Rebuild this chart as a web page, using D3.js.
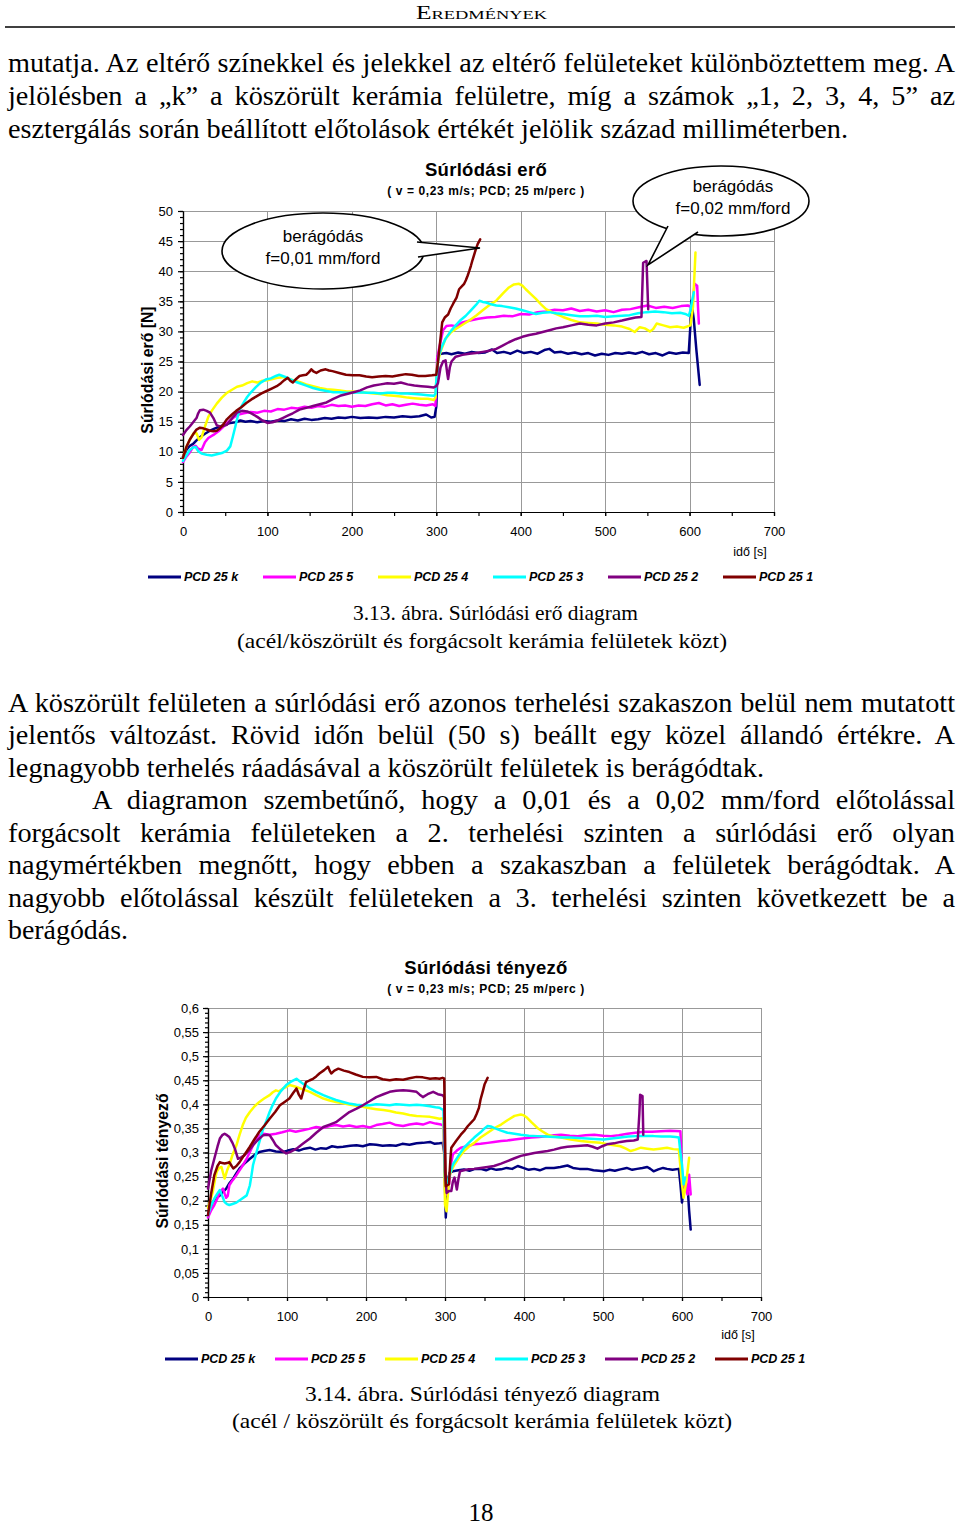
<!doctype html>
<html>
<head>
<meta charset="utf-8">
<title>Súrlódási erő és súrlódási tényező</title>
<script src="https://cdn.jsdelivr.net/npm/d3@7"></script>
<style>
  body { margin: 0; background: #fff; }
  svg { display: block; }
</style>
</head>
<body>
<svg id="page" width="960" height="1526"></svg>
<script>
// ---- data ----
var seriesNames = ["PCD 25 k", "PCD 25 5", "PCD 25 4", "PCD 25 3", "PCD 25 2", "PCD 25 1"];
var seriesColors = ["#000080", "#ff00ff", "#ffff00", "#00ffff", "#800080", "#800000"];
var timeTicks = [0, 100, 200, 300, 400, 500, 600, 700];
var forceTicks = [0, 5, 10, 15, 20, 25, 30, 35, 40, 45, 50];
var coefTicks = [0, 0.05, 0.1, 0.15, 0.2, 0.25, 0.3, 0.35, 0.4, 0.45, 0.5, 0.55, 0.6];

// súrlódási erő [N] vs idő [s]
var forceK = [[0,9.2],[4,10.3],[8,11.0],[12,11.3],[16,11.9],[20,12.4],[26,13.0],[32,13.5],[38,13.9],[44,14.2],[50,14.5],[56,14.8],[62,14.9],[68,15.2],[74,15.0],[80,15.1],[88,14.9],[96,15.1],[104,15.0],[112,15.2],[120,15.1],[128,15.4],[136,15.2],[144,15.5],[152,15.3],[160,15.4],[168,15.6],[176,15.5],[184,15.7],[192,15.6],[200,15.8],[210,15.6],[220,15.7],[230,15.6],[240,15.8],[250,15.7],[260,15.9],[270,15.8],[280,15.9],[288,16.2],[294,15.7],[298,15.8],[300,17.5],[302,26.0],[306,26.3],[312,26.4],[318,26.2],[326,26.5],[334,26.3],[342,26.6],[350,26.4],[358,26.5],[366,27.0],[372,26.4],[380,26.6],[388,26.3],[396,26.8],[404,26.4],[412,26.6],[420,26.3],[428,26.9],[434,27.1],[440,26.5],[448,26.6],[456,26.3],[464,26.5],[472,26.2],[480,26.4],[488,26.0],[496,26.3],[504,26.1],[512,26.4],[520,26.3],[528,26.5],[536,26.3],[544,26.6],[552,26.2],[560,26.4],[568,26.0],[576,26.5],[584,26.3],[592,26.5],[599,26.4],[601,31.0],[602,35.1],[605,32.0],[608,27.0],[612,21.1]];
var force5 = [[0,8.3],[4,9.2],[8,9.9],[12,10.8],[15,11.0],[18,10.5],[22,10.3],[26,11.6],[30,12.3],[36,12.8],[42,13.4],[48,14.2],[54,15.0],[60,15.7],[66,16.2],[72,16.4],[80,16.6],[88,16.5],[96,16.8],[104,16.7],[112,17.1],[120,17.0],[128,17.3],[136,17.2],[144,17.5],[152,17.3],[160,17.6],[168,17.5],[176,17.8],[184,17.6],[192,17.7],[200,17.5],[208,17.7],[216,17.6],[224,17.9],[232,18.1],[240,17.7],[248,17.9],[256,17.6],[264,17.8],[272,18.0],[280,17.8],[288,17.7],[296,17.9],[299,17.6],[301,25.5],[304,27.6],[308,30.2],[312,30.9],[318,31.0],[324,30.8],[331,31.5],[340,31.8],[350,32.1],[360,32.3],[370,32.4],[380,32.6],[390,32.5],[400,32.9],[410,32.8],[420,33.2],[430,33.3],[440,33.6],[450,33.5],[460,33.8],[470,33.4],[480,33.6],[490,33.3],[500,33.5],[510,33.2],[520,33.6],[530,33.7],[540,34.0],[550,34.3],[560,33.9],[570,34.1],[580,33.9],[590,34.2],[598,34.3],[603,34.0],[606,37.9],[609,37.6],[610,34.0],[611,31.3]];
var force4 = [[0,9.0],[4,10.8],[8,12.0],[12,13.0],[16,13.1],[19,12.0],[22,12.4],[26,14.2],[30,15.8],[34,16.8],[40,18.0],[46,19.0],[52,19.8],[58,20.3],[64,20.8],[70,21.0],[76,21.4],[82,21.7],[88,21.5],[94,21.8],[100,21.9],[106,22.1],[112,22.3],[118,22.4],[124,22.2],[130,21.9],[138,21.6],[146,21.2],[154,20.9],[162,20.6],[170,20.4],[178,20.3],[186,20.2],[194,20.0],[202,20.0],[210,19.9],[218,19.8],[226,19.7],[234,19.6],[242,19.4],[250,19.3],[258,19.2],[266,19.0],[274,18.9],[282,18.8],[290,18.8],[297,18.6],[299,19.0],[301,24.5],[305,26.6],[311,28.8],[317,29.8],[323,30.4],[331,31.1],[339,31.8],[347,32.6],[355,33.5],[363,34.4],[371,35.1],[379,36.3],[386,37.3],[392,37.8],[398,37.9],[402,37.6],[406,37.0],[412,36.2],[418,35.4],[424,34.5],[430,33.7],[440,33.0],[450,32.4],[460,31.9],[470,31.5],[480,31.4],[490,31.3],[500,31.1],[510,31.0],[520,30.8],[529,30.4],[535,29.9],[541,30.7],[547,30.5],[553,30.0],[557,30.4],[561,31.3],[569,31.0],[577,30.7],[585,30.8],[593,30.6],[601,31.0],[604,34.0],[605,37.0],[607,43.1]];
var force3 = [[0,8.5],[4,9.4],[8,10.3],[12,10.7],[15,10.8],[18,10.1],[22,9.7],[28,9.5],[34,9.4],[40,9.6],[46,9.8],[52,10.2],[56,10.9],[59,12.5],[62,14.2],[65,16.0],[68,17.2],[72,18.2],[76,19.1],[80,19.8],[86,20.7],[92,21.5],[98,22.0],[104,22.2],[110,22.6],[114,22.8],[118,22.6],[122,22.4],[128,22.0],[134,21.6],[140,21.3],[146,21.0],[154,20.6],[162,20.3],[170,20.1],[178,19.9],[186,19.9],[194,19.8],[202,19.8],[210,19.9],[218,19.8],[226,19.8],[234,19.7],[242,19.8],[250,19.8],[258,19.7],[266,19.7],[274,19.6],[282,19.5],[290,19.4],[297,19.3],[299,19.6],[301,24.0],[303,26.0],[307,27.6],[311,28.8],[317,30.0],[323,31.0],[329,31.9],[335,32.6],[341,33.5],[347,34.4],[351,35.1],[355,34.9],[359,34.8],[365,34.5],[371,34.3],[378,34.2],[386,34.0],[394,33.8],[402,33.5],[410,33.2],[418,32.9],[426,33.1],[434,33.2],[442,33.0],[450,32.9],[460,32.7],[470,32.5],[480,32.5],[490,32.6],[500,32.4],[510,32.5],[520,32.6],[529,32.7],[539,33.0],[549,33.2],[559,33.3],[569,33.2],[579,33.0],[589,33.1],[595,32.9],[599,32.6],[601,33.5],[603,35.1],[605,36.5]];
var force2 = [[0,12.8],[4,13.6],[8,14.2],[12,14.9],[16,15.6],[18,16.4],[20,16.9],[24,17.0],[28,16.8],[32,16.5],[36,15.6],[40,14.4],[44,14.2],[48,14.3],[52,14.5],[56,15.2],[60,15.9],[64,16.5],[70,16.8],[76,16.7],[82,16.3],[88,15.8],[94,15.2],[100,14.8],[106,14.9],[112,15.2],[118,15.6],[124,16.0],[130,16.4],[138,17.0],[146,17.3],[154,17.6],[162,17.9],[170,18.2],[178,18.8],[186,19.3],[194,19.6],[202,19.9],[210,20.2],[218,20.7],[226,21.0],[234,21.2],[242,21.4],[250,21.3],[258,21.5],[266,21.2],[274,21.0],[282,20.9],[290,20.8],[297,20.7],[300,20.9],[302,21.4],[305,24.0],[308,25.0],[311,25.2],[313,23.0],[314,22.1],[316,24.0],[318,25.0],[323,25.8],[331,26.1],[339,26.3],[347,26.4],[355,26.6],[363,26.8],[371,27.1],[378,27.6],[386,28.2],[394,28.7],[402,29.1],[410,29.4],[418,29.6],[426,29.9],[434,30.2],[442,30.5],[450,30.7],[460,31.0],[470,31.3],[480,31.1],[490,31.0],[500,31.3],[510,31.5],[520,31.8],[529,32.1],[536,32.3],[543,32.4],[545,41.4],[549,41.7],[551,33.7]];
var force1 = [[0,9.0],[4,10.8],[8,12.0],[12,12.9],[16,13.7],[20,14.0],[24,13.9],[28,13.7],[32,13.5],[36,13.4],[40,13.5],[44,13.9],[48,14.6],[52,15.4],[58,16.2],[63,16.8],[69,17.4],[75,18.1],[81,18.7],[87,19.2],[93,19.7],[99,20.1],[105,20.5],[111,20.9],[116,21.4],[120,21.9],[124,22.3],[127,21.8],[130,21.5],[134,22.1],[138,22.6],[142,22.7],[146,22.8],[149,23.2],[152,23.7],[155,23.3],[158,23.1],[163,23.5],[169,23.7],[173,23.5],[177,23.4],[185,23.1],[193,22.8],[201,22.7],[209,22.7],[217,22.5],[224,22.4],[232,22.5],[240,22.6],[248,22.5],[256,22.7],[264,22.9],[271,22.8],[279,22.6],[287,22.6],[295,22.7],[300,22.8],[302,25.0],[304,27.5],[307,31.5],[310,32.3],[314,32.8],[317,33.8],[320,34.6],[324,35.6],[327,37.0],[331,37.6],[333,37.9],[335,38.5],[337,39.2],[339,40.0],[341,40.9],[343,41.9],[345,42.8],[347,43.7],[349,44.5],[352,45.3]];

// súrlódási tényező vs idő [s]
var coefK = [[0,0.170],[3,0.185],[6,0.197],[10,0.205],[15,0.211],[19,0.218],[23,0.225],[27,0.236],[32,0.246],[36,0.257],[40,0.267],[46,0.277],[53,0.287],[59,0.295],[65,0.301],[71,0.303],[78,0.305],[86,0.302],[95,0.301],[101,0.304],[108,0.307],[115,0.304],[122,0.308],[129,0.310],[136,0.306],[143,0.309],[150,0.308],[157,0.313],[164,0.311],[171,0.312],[180,0.314],[188,0.315],[196,0.313],[205,0.317],[213,0.316],[221,0.314],[230,0.315],[238,0.314],[246,0.318],[255,0.316],[264,0.319],[272,0.320],[281,0.322],[287,0.318],[293,0.319],[297,0.320],[299,0.300],[300,0.230],[301,0.165],[302,0.200],[303,0.241],[306,0.258],[310,0.261],[317,0.263],[324,0.265],[331,0.262],[338,0.266],[345,0.266],[352,0.263],[358,0.267],[365,0.264],[371,0.265],[378,0.268],[385,0.266],[392,0.272],[399,0.268],[406,0.264],[413,0.266],[420,0.263],[428,0.268],[438,0.268],[446,0.270],[455,0.273],[462,0.268],[470,0.266],[480,0.266],[488,0.263],[495,0.262],[501,0.261],[508,0.264],[515,0.262],[522,0.265],[530,0.268],[537,0.264],[543,0.266],[550,0.268],[556,0.270],[560,0.266],[564,0.261],[570,0.265],[576,0.268],[581,0.266],[588,0.264],[596,0.266],[598,0.234],[600,0.196],[602,0.225],[604,0.236],[607,0.232],[609,0.180],[611,0.140]];
var coef5 = [[0,0.165],[4,0.180],[8,0.191],[12,0.205],[15,0.218],[19,0.225],[21,0.215],[23,0.206],[25,0.210],[27,0.232],[31,0.242],[36,0.253],[42,0.268],[49,0.287],[55,0.308],[61,0.329],[66,0.336],[70,0.339],[78,0.337],[86,0.339],[94,0.342],[103,0.346],[111,0.343],[120,0.346],[128,0.349],[137,0.353],[145,0.351],[154,0.355],[162,0.357],[171,0.354],[179,0.356],[188,0.353],[196,0.355],[205,0.352],[213,0.357],[221,0.359],[230,0.362],[238,0.357],[247,0.355],[255,0.358],[264,0.360],[272,0.358],[281,0.363],[288,0.360],[295,0.358],[298,0.356],[300,0.241],[302,0.213],[305,0.234],[308,0.280],[310,0.296],[315,0.304],[320,0.310],[328,0.313],[337,0.317],[345,0.318],[354,0.320],[362,0.322],[371,0.324],[379,0.325],[388,0.327],[398,0.329],[409,0.331],[419,0.332],[430,0.334],[438,0.336],[447,0.337],[458,0.335],[468,0.334],[478,0.336],[489,0.337],[500,0.335],[510,0.334],[520,0.336],[531,0.339],[541,0.341],[552,0.343],[562,0.343],[573,0.344],[585,0.345],[598,0.344],[600,0.254],[603,0.230],[607,0.213],[609,0.254],[611,0.213]];
var coef4 = [[0,0.185],[3,0.200],[6,0.218],[9,0.245],[11,0.260],[14,0.268],[17,0.270],[19,0.258],[21,0.246],[24,0.262],[27,0.274],[31,0.295],[36,0.315],[40,0.337],[44,0.357],[48,0.372],[53,0.384],[59,0.396],[65,0.405],[71,0.412],[78,0.419],[82,0.425],[86,0.429],[90,0.427],[95,0.433],[99,0.436],[103,0.440],[108,0.438],[112,0.436],[120,0.431],[129,0.426],[137,0.419],[146,0.412],[154,0.408],[162,0.405],[171,0.402],[180,0.399],[188,0.397],[196,0.395],[205,0.392],[213,0.390],[222,0.388],[230,0.386],[238,0.383],[247,0.381],[255,0.378],[264,0.376],[272,0.375],[281,0.374],[287,0.372],[293,0.370],[298,0.371],[300,0.192],[302,0.178],[304,0.220],[305,0.248],[308,0.262],[312,0.275],[318,0.290],[324,0.303],[330,0.312],[337,0.320],[345,0.331],[354,0.341],[362,0.350],[371,0.358],[379,0.367],[388,0.376],[396,0.379],[400,0.377],[404,0.372],[410,0.362],[417,0.351],[423,0.344],[430,0.337],[438,0.333],[447,0.331],[459,0.327],[472,0.324],[484,0.322],[497,0.320],[510,0.316],[522,0.313],[529,0.308],[535,0.303],[541,0.306],[548,0.310],[556,0.308],[564,0.306],[572,0.308],[581,0.310],[589,0.307],[596,0.306],[600,0.234],[602,0.206],[605,0.235],[607,0.261],[609,0.289]];
var coef3 = [[0,0.170],[4,0.190],[8,0.204],[12,0.215],[15,0.222],[18,0.210],[21,0.197],[24,0.193],[27,0.191],[31,0.193],[36,0.196],[42,0.203],[49,0.211],[53,0.232],[55,0.252],[57,0.274],[61,0.298],[65,0.322],[69,0.345],[74,0.366],[78,0.384],[82,0.399],[86,0.412],[92,0.427],[99,0.440],[105,0.447],[112,0.453],[116,0.448],[120,0.443],[125,0.438],[129,0.433],[137,0.426],[146,0.419],[154,0.414],[162,0.409],[171,0.405],[180,0.401],[188,0.399],[196,0.398],[205,0.398],[213,0.400],[222,0.399],[230,0.398],[238,0.400],[247,0.399],[255,0.398],[264,0.399],[272,0.398],[281,0.396],[288,0.394],[293,0.393],[298,0.388],[300,0.248],[303,0.234],[306,0.255],[310,0.275],[317,0.293],[324,0.310],[330,0.320],[337,0.331],[345,0.342],[350,0.350],[354,0.355],[358,0.354],[362,0.351],[370,0.346],[379,0.341],[388,0.339],[396,0.337],[406,0.335],[417,0.334],[428,0.333],[438,0.332],[448,0.331],[459,0.331],[469,0.330],[480,0.329],[490,0.328],[501,0.327],[511,0.329],[522,0.331],[532,0.333],[543,0.334],[553,0.334],[564,0.334],[574,0.333],[585,0.333],[592,0.332],[596,0.331],[598,0.300],[600,0.275],[602,0.234],[604,0.248]];
var coef2 = [[0,0.225],[4,0.262],[8,0.287],[12,0.312],[15,0.329],[18,0.336],[21,0.339],[24,0.336],[27,0.332],[31,0.320],[34,0.308],[38,0.287],[42,0.290],[46,0.294],[52,0.305],[57,0.315],[63,0.326],[70,0.336],[74,0.337],[78,0.336],[82,0.326],[86,0.315],[92,0.306],[99,0.298],[105,0.302],[112,0.308],[120,0.318],[129,0.329],[137,0.341],[146,0.353],[154,0.358],[162,0.363],[171,0.374],[179,0.384],[188,0.391],[196,0.398],[205,0.407],[213,0.415],[222,0.421],[230,0.426],[238,0.428],[247,0.429],[255,0.428],[264,0.426],[268,0.420],[272,0.415],[278,0.421],[285,0.426],[291,0.421],[297,0.419],[299,0.415],[300,0.261],[302,0.216],[305,0.220],[308,0.220],[310,0.240],[312,0.248],[314,0.232],[315,0.223],[317,0.245],[319,0.261],[324,0.263],[329,0.265],[337,0.266],[345,0.268],[354,0.270],[362,0.272],[371,0.277],[379,0.282],[388,0.288],[396,0.293],[404,0.296],[413,0.299],[421,0.301],[430,0.303],[438,0.306],[447,0.310],[455,0.312],[463,0.313],[472,0.314],[480,0.315],[487,0.312],[493,0.308],[499,0.313],[505,0.317],[514,0.319],[522,0.322],[530,0.324],[539,0.325],[544,0.327],[546,0.380],[547,0.420],[550,0.417],[551,0.337]];
var coef1 = [[0,0.170],[4,0.215],[8,0.253],[12,0.272],[15,0.280],[18,0.278],[21,0.277],[24,0.278],[27,0.280],[30,0.272],[32,0.267],[36,0.272],[40,0.280],[46,0.295],[53,0.312],[59,0.328],[65,0.343],[72,0.357],[78,0.370],[85,0.384],[91,0.398],[97,0.405],[103,0.412],[108,0.424],[112,0.433],[115,0.420],[118,0.412],[121,0.430],[124,0.446],[129,0.450],[133,0.453],[137,0.458],[141,0.464],[147,0.471],[152,0.478],[154,0.470],[156,0.464],[160,0.470],[165,0.474],[172,0.470],[179,0.467],[187,0.462],[196,0.457],[204,0.456],[213,0.457],[221,0.452],[230,0.450],[238,0.452],[247,0.451],[255,0.454],[264,0.457],[272,0.456],[281,0.453],[288,0.454],[293,0.453],[297,0.455],[299,0.454],[301,0.230],[303,0.232],[305,0.234],[307,0.290],[308,0.310],[314,0.324],[320,0.337],[325,0.346],[329,0.355],[333,0.362],[337,0.369],[340,0.380],[343,0.393],[345,0.410],[348,0.428],[350,0.441],[354,0.455]];

var SERIF = '"Liberation Serif", "Times New Roman", serif';
var SANS = '"Liberation Sans", Arial, sans-serif';

var svg = d3.select("#page");
svg.append("rect").attr("width", 960).attr("height", 1526).attr("fill", "#fff");

// body text: slightly condensed Times, justified with word spacing
var BODY_SIZE = 27.5;
function naturalWidth(str, size) {
  var t = svg.append("text").attr("font-family", SERIF).attr("font-size", size).text(str);
  var w = t.node().getComputedTextLength();
  t.remove();
  return w;
}
// horizontal squeeze taken from a line that is set with normal spacing in the scan
var bodySx = 756 / naturalWidth("legnagyobb terhelés ráadásával a köszörült felületek is berágódtak.", BODY_SIZE);

function textLine(str, x, y, w, size, justify, sx) {
  sx = sx || 1;
  var t = svg.append("text")
      .attr("transform", "translate(" + x + "," + y + ") scale(" + sx + ",1)")
      .attr("font-family", SERIF).attr("font-size", size)
      .text(str);
  var nat = t.node().getComputedTextLength() * sx;
  var gaps = (str.match(/ /g) || []).length;
  if (justify && nat < w && gaps > 0) {
    t.attr("word-spacing", (w - nat) / gaps / sx);
  } else {
    t.attr("textLength", w / sx).attr("lengthAdjust", "spacingAndGlyphs");
  }
  return t;
}

// header
svg.append("text").attr("x", 416).attr("y", 19)
    .attr("font-family", SERIF).attr("font-size", 18)
    .style("font-variant", "small-caps")
    .attr("textLength", 131).attr("lengthAdjust", "spacingAndGlyphs")
    .text("Eredmények");
svg.append("line").attr("x1", 5).attr("x2", 955).attr("y1", 27).attr("y2", 27)
    .attr("stroke", "#000").attr("stroke-width", 1.3);

var bodyLines = [
  ["mutatja. Az eltérő színekkel és jelekkel az eltérő felületeket különböztettem meg. A", 8, 72, 947, true],
  ["jelölésben a „k” a köszörült kerámia felületre, míg a számok „1, 2, 3, 4, 5” az", 8, 105, 947, true],
  ["esztergálás során beállított előtolások értékét jelölik század milliméterben.", 8, 138, 840, false],
  ["A köszörült felületen a súrlódási erő azonos terhelési szakaszon belül nem mutatott", 8, 712, 947, true],
  ["jelentős változást. Rövid időn belül (50 s) beállt egy közel állandó értékre. A", 8, 744, 947, true],
  ["legnagyobb terhelés ráadásával a köszörült felületek is berágódtak.", 8, 777, 756, false],
  ["A diagramon szembetűnő, hogy a 0,01 és a 0,02 mm/ford előtolással", 92, 809, 863, true],
  ["forgácsolt kerámia felületeken a 2. terhelési szinten a súrlódási erő olyan", 8, 842, 947, true],
  ["nagymértékben megnőtt, hogy ebben a szakaszban a felületek berágódtak. A", 8, 874, 947, true],
  ["nagyobb előtolással készült felületeken a 3. terhelési szinten következett be a", 8, 907, 947, true],
  ["berágódás.", 8, 939, 120, false]
];
bodyLines.forEach(function(l) { textLine(l[0], l[1], l[2], l[3], BODY_SIZE, l[4], bodySx); });

// captions and page number
textLine("3.13. ábra. Súrlódási erő diagram", 353, 620, 285, 21, false);
textLine("(acél/köszörült és forgácsolt kerámia felületek közt)", 237, 648, 490, 21, false);
textLine("3.14. ábra. Súrlódási tényező diagram", 305, 1401, 355, 21, false);
textLine("(acél / köszörült és forgácsolt kerámia felületek közt)", 232, 1428, 500, 21, false);
svg.append("text").attr("x", 481).attr("y", 1521).attr("text-anchor", "middle")
    .attr("font-family", SERIF).attr("font-size", 25).text("18");

function drawChart(cfg) {
  var x = d3.scaleLinear().domain([0, 700]).range([cfg.left, cfg.right]);
  var y = d3.scaleLinear().domain([0, cfg.yMax]).range([cfg.bottom, cfg.top]);
  var g = svg.append("g").attr("font-family", SANS);

  // gridlines
  g.append("g").selectAll("line").data(cfg.yTicks.slice(1)).join("line")
      .attr("x1", x(0)).attr("x2", x(700))
      .attr("y1", function(d) { return Math.round(y(d)) + 0.5; })
      .attr("y2", function(d) { return Math.round(y(d)) + 0.5; })
      .attr("stroke", "#999");
  g.append("g").selectAll("line").data(timeTicks.slice(1)).join("line")
      .attr("x1", function(d) { return Math.round(x(d)) + 0.5; })
      .attr("x2", function(d) { return Math.round(x(d)) + 0.5; })
      .attr("y1", y(0)).attr("y2", y(cfg.yMax))
      .attr("stroke", "#999");

  // axes
  var xMinor = g.append("g").attr("transform", "translate(0," + y(0) + ")")
      .call(d3.axisBottom(x).tickValues(d3.range(0, 701, 50)).tickSize(4).tickSizeOuter(0).tickFormat(""));
  var xMajor = g.append("g").attr("transform", "translate(0," + y(0) + ")")
      .call(d3.axisBottom(x).tickValues(timeTicks).tickSize(4).tickSizeOuter(0).tickPadding(cfg.xPad));
  var yMinor = g.append("g").attr("transform", "translate(" + x(0) + ",0)")
      .call(d3.axisLeft(y).tickValues(cfg.yMinor).tickSize(3).tickSizeOuter(0).tickFormat(""));
  var yMajor = g.append("g").attr("transform", "translate(" + x(0) + ",0)")
      .call(d3.axisLeft(y).tickValues(cfg.yTicks).tickSize(5).tickSizeOuter(0).tickPadding(cfg.yPad).tickFormat(cfg.fmt));
  [xMinor, xMajor, yMinor, yMajor].forEach(function(a) {
    a.attr("font-family", SANS).attr("font-size", 13);
    a.selectAll("path,line").attr("stroke", "#000").attr("stroke-width", 1.2);
    a.selectAll("text").attr("fill", "#000");
  });

  // series
  var line = d3.line().x(function(d) { return x(d[0]); }).y(function(d) { return y(d[1]); });
  cfg.series.forEach(function(s, i) {
    g.append("path").attr("d", line(s))
        .attr("fill", "none").attr("stroke", seriesColors[i])
        .attr("stroke-width", 2.5).attr("stroke-linejoin", "round").attr("stroke-linecap", "round");
  });

  // titles
  g.append("text").attr("x", 486).attr("y", cfg.titleY).attr("text-anchor", "middle")
      .attr("font-size", 18.5).attr("font-weight", "bold").attr("letter-spacing", 0.3).text(cfg.title);
  g.append("text").attr("x", 486).attr("y", cfg.titleY + 19).attr("text-anchor", "middle")
      .attr("font-size", 12).attr("font-weight", "bold").attr("letter-spacing", 0.6)
      .text("( v = 0,23 m/s; PCD; 25 m/perc )");
  g.append("text")
      .attr("transform", "translate(" + cfg.yTitleX + "," + cfg.yTitleY + ") rotate(-90)")
      .attr("text-anchor", "middle").attr("font-size", 15.8).attr("font-weight", "bold")
      .text(cfg.yTitle);
  g.append("text").attr("x", cfg.xTitleX).attr("y", cfg.xTitleY).attr("text-anchor", "middle")
      .attr("font-size", 12.5).text("idő [s]");

  // legend
  seriesNames.forEach(function(n, i) {
    var lx = cfg.legX + i * cfg.legStep;
    g.append("line").attr("x1", lx).attr("x2", lx + 33).attr("y1", cfg.legY).attr("y2", cfg.legY)
        .attr("stroke", seriesColors[i]).attr("stroke-width", 3);
    g.append("text").attr("x", lx + 36).attr("y", cfg.legY + 4)
        .attr("font-size", 12.5).attr("font-weight", "bold").attr("font-style", "italic").text(n);
  });
  return g;
}

drawChart({
  left: 183, right: 774, bottom: 512, top: 211, yMax: 50,
  yTicks: forceTicks, yMinor: d3.range(0, 51, 1), fmt: d3.format("d"),
  xPad: 11, yPad: 5,
  series: [forceK, force5, force4, force3, force2, force1],
  title: "Súrlódási erő", titleY: 176,
  yTitle: "Súrlódási erő [N]", yTitleX: 153, yTitleY: 370,
  xTitleX: 750, xTitleY: 556,
  legX: 148, legStep: 115, legY: 577
});

drawChart({
  left: 208, right: 761, bottom: 1297, top: 1008, yMax: 0.6,
  yTicks: coefTicks, yMinor: d3.range(0, 61).map(function(i) { return i / 100; }),
  fmt: function(d) { return d3.format(".2~f")(d).replace(".", ","); },
  xPad: 11, yPad: 4,
  series: [coefK, coef5, coef4, coef3, coef2, coef1],
  title: "Súrlódási tényező", titleY: 974,
  yTitle: "Súrlódási tényező", yTitleX: 168, yTitleY: 1161,
  xTitleX: 738, xTitleY: 1339,
  legX: 165, legStep: 110, legY: 1359
});

// callouts on the force chart
function callout(cx, cy, rx, ry, wedge, lines, tx) {
  var g = svg.append("g").attr("font-family", SANS);
  g.append("ellipse").attr("cx", cx).attr("cy", cy).attr("rx", rx).attr("ry", ry)
      .attr("fill", "#fff").attr("stroke", "#000").attr("stroke-width", 1.6);
  g.append("path").attr("d", "M" + wedge[0] + "L" + wedge[1] + "L" + wedge[2])
      .attr("fill", "#fff").attr("stroke", "#000").attr("stroke-width", 1.6).attr("stroke-linejoin", "miter");
  lines.forEach(function(l, i) {
    g.append("text").attr("x", tx).attr("y", cy - 9 + i * 22).attr("text-anchor", "middle")
        .attr("font-size", 17).text(l);
  });
}
callout(323, 251, 101, 38, [[417, 242], [480, 248], [418, 257]], ["berágódás", "f=0,01 mm/ford"], 323);
callout(721, 201, 88, 35, [[668, 226], [648, 265], [698, 232]], ["berágódás", "f=0,02 mm/ford"], 733);
</script>
</body>
</html>
